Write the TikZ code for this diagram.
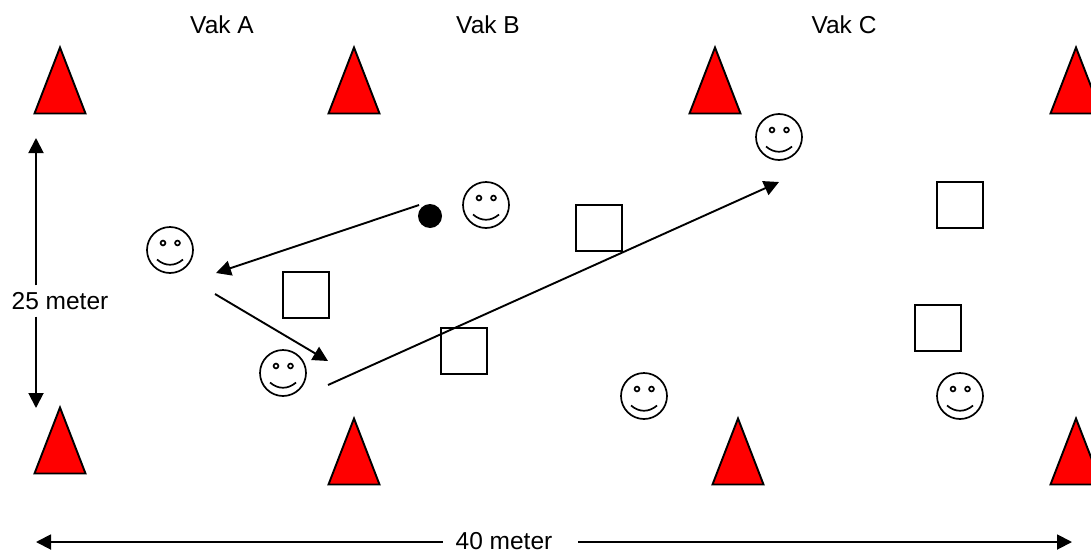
\documentclass[tikz,border=0pt]{standalone}
\usepackage{fontspec}
\setmainfont{Liberation Sans}
\usetikzlibrary{shapes.geometric}
\usetikzlibrary{arrows.meta}
\tikzset{
every picture/.style={line width=1.9pt, >={Triangle[length=15pt,width=15pt]},
                      x=1pt,y=-1pt},
every node/.style={font=\fontsize{24.5}{28}\selectfont},
%%%%%%%%%%  Node styles
cone/.style={isosceles triangle, isosceles triangle stretches, draw, fill=red,
             shape border rotate=90, minimum width=51pt, minimum height=66pt,
             inner sep=0, anchor=apex, yshift=2pt},
marker/.style={draw, line width=1.5pt, minimum size=46pt, inner sep=0},
ball/.style={circle, fill=black, minimum size=24pt, inner sep=0},
smiley/.style={circle, draw, line width=1.7pt, minimum size=46pt, inner sep=0,
   path picture={
     \begin{scope}[shift={(path picture bounding box.center)}]
     \draw (-7,-7) circle (2.4pt);
     \draw (7.5,-7) circle (2.4pt);
     \draw (-13,9.5) .. controls (-5,16.5) and (5,16.5) .. (13,9.5);
     \end{scope}
   }},
label_text/.style={inner sep=0}
}

\begin{document}
\begin{tikzpicture}
\useasboundingbox (0,0) rectangle (1091,554);
%%%%%%% field labels
\node[label_text] (vakA) at (222,25) {Vak A};
\node[label_text] (vakB) at (488,25) {Vak B};
\node[label_text] (vakC) at (844,25) {Vak C};
\node[label_text,inner sep=6pt] (width) at (60,301) {25 meter};
\node[label_text,inner sep=12pt] (length) at (504,541) {40 meter};
%%%%%%% cones
\node[cone] (coneA) at (60,47) {};
\node[cone] (coneB) at (354,47) {};
\node[cone] (coneC) at (715,47) {};
\node[cone] (coneD) at (1076,47) {};
\node[cone] (coneE) at (60,407) {};
\node[cone] (coneF) at (354,418) {};
\node[cone] (coneG) at (738,418) {};
\node[cone] (coneH) at (1076,418) {};
%%%%%%% players
\node[smiley] (playerA) at (170,250) {};
\node[smiley] (playerB) at (283,373) {};
\node[smiley] (playerC) at (486,205) {};
\node[smiley] (playerD) at (779,137) {};
\node[smiley] (playerE) at (644,396) {};
\node[smiley] (playerF) at (960,396) {};
%%%%%%% square markers
\node[marker] (markA) at (306,295) {};
\node[marker] (markB) at (464,351) {};
\node[marker] (markC) at (599,228) {};
\node[marker] (markD) at (960,205) {};
\node[marker] (markE) at (938,328) {};
\node[ball] (bal) at (430,216) {};
%%%%%%% free ends of the arrows
\coordinate (passStart) at (419,205);
\coordinate (passEnd) at (216,273);
\coordinate (runStart) at (215,294);
\coordinate (runEnd) at (328,361);
\coordinate (longStart) at (328,385);
\coordinate (longEnd) at (779,182);
\coordinate (widthTop) at (36,138);
\coordinate (widthBottom) at (36,408);
\coordinate (lengthLeft) at (36,542);
\coordinate (lengthRight) at (1072,542);
%%%%%%% arrows
\draw[->] (passStart) -- (passEnd);
\draw[->] (runStart) -- (runEnd);
\draw[->] (longStart) -- (longEnd);
\draw[->] (width.north -| widthTop) -- (widthTop);
\draw[->] (width.south -| widthBottom) -- (widthBottom);
\draw[->] (length.west |- lengthLeft) -- (lengthLeft);
\draw[->] ([xshift=13pt]length.east |- lengthRight) -- (lengthRight);
\end{tikzpicture}
\end{document}
